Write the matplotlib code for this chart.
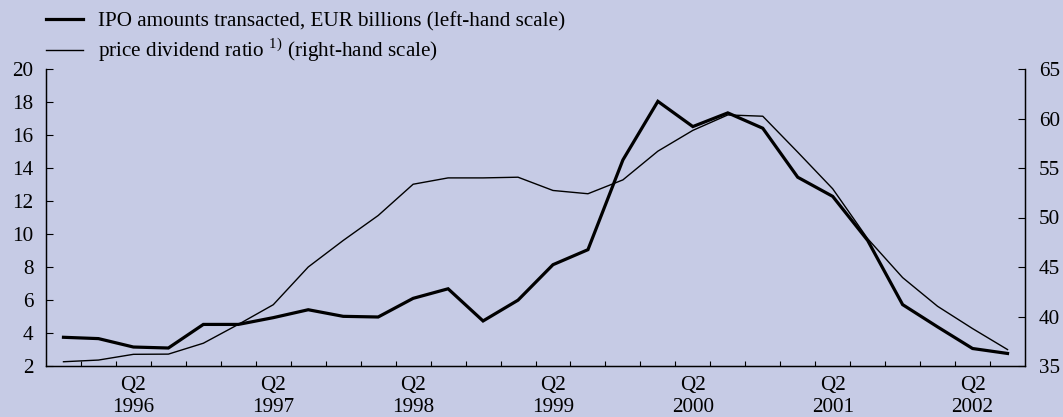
import matplotlib
matplotlib.use("Agg")
import matplotlib.pyplot as plt
from matplotlib.ticker import FixedLocator, NullFormatter

plt.rcParams['font.family'] = ['Liberation Serif', 'DejaVu Serif']
plt.rcParams['mathtext.fontset'] = 'custom'
plt.rcParams['mathtext.rm'] = 'Liberation Serif'

# quarters Q4 1995 .. Q3 2002
quarters = ['Q4 1995'] + [f'Q{q} {y}' for y in range(1996, 2002) for q in range(1, 5)] + ['Q1 2002', 'Q2 2002', 'Q3 2002']

ipo_amounts = [3.74, 3.66, 3.15, 3.09, 4.52, 4.52, 4.93, 5.41, 5.01, 4.97, 6.10, 6.68, 4.73, 5.99,
               8.14, 9.05, 14.49, 18.04, 16.51, 17.34, 16.41, 13.44, 12.28, 9.61, 5.72, 4.37, 3.06, 2.76]
price_dividend = [35.43, 35.6, 36.18, 36.2, 37.3, 39.2, 41.19, 45.0, 47.68, 50.2, 53.36, 54.0, 54.0, 54.07,
                  52.73, 52.4, 53.8, 56.7, 58.8, 60.36, 60.23, 56.6, 52.9, 47.86, 43.93, 41.03, 38.78, 36.66]

bg = '#c6cbe5'
fs = 15.2

fig = plt.figure(figsize=(10.63, 4.17), dpi=100, facecolor=bg)
ax = fig.add_axes([46 / 1063, 1 - 366 / 417, (1025 - 46) / 1063, (366 - 69) / 417])
ax.set_facecolor(bg)
ax2 = ax.twinx()

xs = list(range(len(quarters)))
l1, = ax.plot(xs, ipo_amounts, color='black', lw=2.3, solid_joinstyle='miter')
l2, = ax2.plot(xs, price_dividend, color='black', lw=1.0)

ax.set_xlim(-0.5, len(quarters) - 0.5)
ax.set_ylim(2, 20)
ax2.set_ylim(35, 65)
ax.set_yticks(range(2, 21, 2))
ax2.set_yticks(range(35, 66, 5))

# quarter boundaries as minor ticks, Q2 labels as major (no mark)
major = [i for i, q in enumerate(quarters) if q.startswith('Q2')]
ax.xaxis.set_major_locator(FixedLocator(major))
ax.set_xticklabels([quarters[i].replace(' ', '\n') for i in major], fontsize=fs, linespacing=1.22)
ax.xaxis.set_minor_locator(FixedLocator([i + 0.5 for i in xs[:-1]]))
ax.xaxis.set_minor_formatter(NullFormatter())
ax.tick_params(axis='x', which='major', length=0, pad=7)
ax.tick_params(axis='x', which='minor', direction='in', length=3.8, width=0.8)
ax.tick_params(axis='y', direction='in', length=5.3, width=0.8, labelsize=fs, pad=9)
ax2.tick_params(axis='y', direction='in', length=5.3, width=0.8, labelsize=fs, pad=10)

for a in (ax, ax2):
    a.spines['top'].set_visible(False)
    for s in ('left', 'right', 'bottom'):
        a.spines[s].set_linewidth(0.9)

fig.legend([l1, l2],
           ['IPO amounts transacted, EUR billions (left-hand scale)',
            'price dividend ratio $^{1)}$ (right-hand scale)'],
           loc='upper left', bbox_to_anchor=(45.7 / 1063, 1 - 12 / 417),
           frameon=False, fontsize=fs, handlelength=1.78, handletextpad=0.7,
           labelspacing=0.22, borderpad=0, borderaxespad=0)

fig.savefig('out.png', dpi=100, facecolor=bg)
